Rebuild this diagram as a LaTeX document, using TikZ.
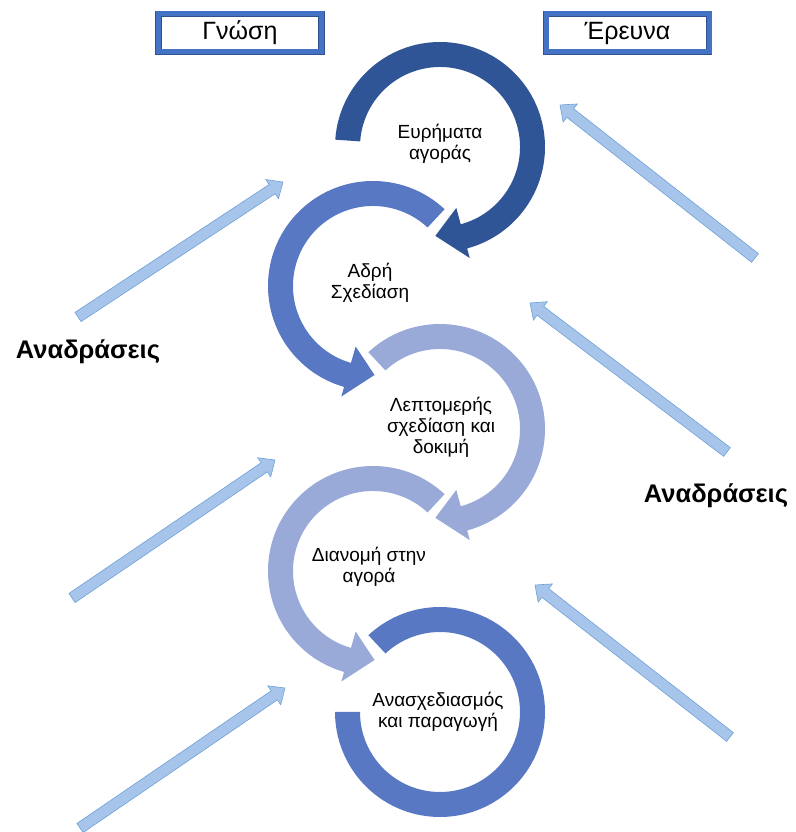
\documentclass[tikz,border=0pt]{standalone}
\usepackage{fontspec}
\setmainfont{Liberation Sans}
\usetikzlibrary{calc}
\definecolor{cdark}{HTML}{2F5597}
\definecolor{cmed}{HTML}{5878C4}
\definecolor{clight}{HTML}{99AAD8}
\definecolor{fbfill}{HTML}{A7C5EA}
\definecolor{fbline}{HTML}{6FA0D8}
\definecolor{boxblue}{HTML}{4472C4}
\definecolor{boxdark}{HTML}{2F528F}
\tikzset{
  fbarrow/.style={fill=fbfill, draw=fbline, line width=0.6pt, line join=miter},
  stagetext/.style={align=center, font=\fontsize{19}{21}\selectfont, inner sep=0pt},
  titlebox/.style={draw=boxdark, double=boxblue, double distance=5pt, line width=0.8pt,
     fill=white, minimum width=163pt, minimum height=38pt, inner sep=0pt,
     font=\fontsize{25}{27}\selectfont},
  fblabel/.style={font=\bfseries\fontsize{25.5}{27}\selectfont, inner sep=0pt}
}
\newcommand\fbArrow[1]{%
  \coordinate (#1h) at ($(#1p)!13pt!(#1t)$);
  \path[fbarrow] ($(#1t)!5.5pt!90:(#1p)$) -- ($(#1h)!5.5pt!90:(#1p)$) -- ($(#1h)!11.5pt!90:(#1p)$)
    -- (#1p) -- ($(#1h)!11.5pt!-90:(#1p)$) -- ($(#1h)!5.5pt!-90:(#1p)$) -- ($(#1t)!5.5pt!-90:(#1p)$) -- cycle;
}
\newcommand\ringArrow[5]{%
  \fill[#1] ($(#2)+(#3:105pt)$) arc[start angle=#3, end angle=#4, radius=105pt]
    -- ($(#2)+(#4:115pt)$) -- ($(#2)+(#5:89pt)$) -- ($(#2)+(#4:63pt)$)
    -- ($(#2)+(#4:80pt)$) arc[start angle=#4, end angle=#3, radius=80pt] -- cycle;
}
\begin{document}
\begin{tikzpicture}[x=1pt, y=1pt]
\useasboundingbox (0,0) rectangle (795,832);
% ring centres
\coordinate (c1) at (440,685);
\coordinate (c2) at (373,546);
\coordinate (c3) at (440,403);
\coordinate (c4) at (373,261);
\coordinate (c5) at (440,120);
% rings
\ringArrow{cdark}{c1}{176}{-75}{-93}
\ringArrow{cmed}{c2}{47}{254}{271}
\ringArrow{clight}{c3}{133}{-75}{-93}
\ringArrow{clight}{c4}{47}{254}{271}
\fill[cmed] ($(c5)+(133:105pt)$) arc[start angle=133, end angle=-180, radius=105pt]
   -- ($(c5)+(180:80pt)$) arc[start angle=-180, end angle=133, radius=80pt] -- cycle;
% stage texts
\node[stagetext] (s1) at (440,688) {Ευρήματα\\αγοράς};
\node[stagetext] (s2) at (370,549) {Αδρή\\Σχεδίαση};
\node[stagetext] (s3) at (441,405) {Λεπτομερής\\σχεδίαση και\\δοκιμή};
\node[stagetext] (s4) at (369,265) {Διανομή στην\\αγορά};
\node[stagetext] (s5) at (438,120) {Ανασχεδιασμός\\και παραγωγή};
% title boxes
\node[titlebox] (gnosi) at (240,799) {Γνώση};
\node[titlebox] (erevna) at (627.5,799) {Έρευνα};
% feedback labels
\node[fblabel] (fbL) at (88,480) {Αναδράσεις};
\node[fblabel] (fbR) at (716,336) {Αναδράσεις};
% feedback arrows
\coordinate (l1t) at (78,515);  \coordinate (l1p) at (283,650);
\coordinate (l2t) at (72,234);  \coordinate (l2p) at (275,372);
\coordinate (l3t) at (80,4);    \coordinate (l3p) at (285,144);
\coordinate (r1t) at (755,574); \coordinate (r1p) at (560,727);
\coordinate (r2t) at (727,380); \coordinate (r2p) at (530,529);
\coordinate (r3t) at (730,95);  \coordinate (r3p) at (535,247);
\fbArrow{l1}
\fbArrow{l2}
\fbArrow{l3}
\fbArrow{r1}
\fbArrow{r2}
\fbArrow{r3}
\end{tikzpicture}
\end{document}
